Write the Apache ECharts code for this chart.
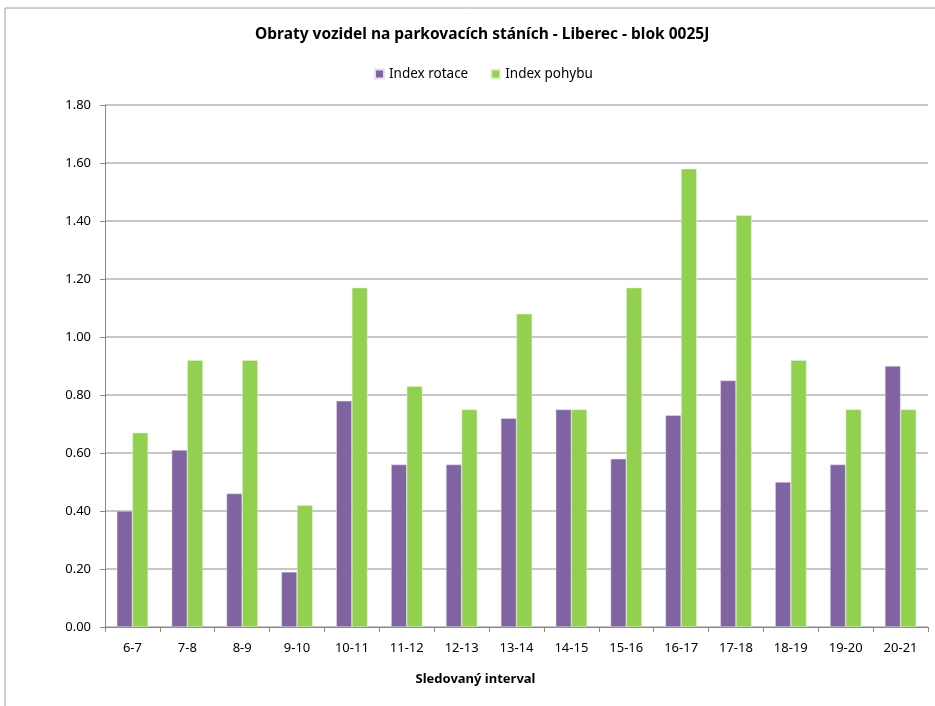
<!DOCTYPE html>
<html>
<head>
<meta charset="utf-8">
<script src="https://cdn.jsdelivr.net/npm/echarts@6/dist/echarts.min.js"></script>
<style>
  html, body { margin: 0; padding: 0; background: #fff; }
  #chart { width: 935px; height: 706px; }
</style>
</head>
<body>
<div id="chart"></div>
<script>
var categories = ['6-7', '7-8', '8-9', '9-10', '10-11', '11-12', '12-13', '13-14', '14-15', '15-16', '16-17', '17-18', '18-19', '19-20', '20-21'];
var indexRotace = [0.40, 0.61, 0.46, 0.19, 0.78, 0.56, 0.56, 0.72, 0.75, 0.58, 0.73, 0.85, 0.50, 0.56, 0.90];
var indexPohybu = [0.67, 0.92, 0.92, 0.42, 1.17, 0.83, 0.75, 1.08, 0.75, 1.17, 1.58, 1.42, 0.92, 0.75, 0.75];

var font = 'Noto Sans';
var chart = echarts.init(document.getElementById('chart'));

var option = {
  animation: false,
  color: ['#8064A2', '#92D050'],
  title: {
    text: 'Obraty vozidel na parkovacích stáních - Liberec - blok 0025J',
    left: 250,
    top: 22,
    textStyle: { fontFamily: font, fontSize: 15.5, fontWeight: 'bold', color: '#000' }
  },
  legend: {
    top: 62,
    left: 369,
    itemWidth: 9,
    itemHeight: 9,
    itemGap: 22,
    icon: 'rect',
    textStyle: { fontFamily: font, fontSize: 13.5, color: '#000' },
    data: ['Index rotace', 'Index pohybu']
  },
  graphic: [{
    type: 'rect',
    shape: { x: 5, y: 8, width: 940, height: 710 },
    style: { fill: 'none', stroke: '#a0a0a0', lineWidth: 1 },
    silent: true
  }],
  grid: { left: 105, right: 7, top: 105, bottom: 79 },
  xAxis: {
    type: 'category',
    data: categories,
    name: 'Sledovaný interval',
    nameLocation: 'middle',
    nameGap: 46,
    nameTextStyle: { fontFamily: font, fontSize: 13, fontWeight: 'bold', color: '#000', padding: [0, 82, 0, 0] },
    axisLine: { lineStyle: { color: '#868686' } },
    axisTick: { show: true, length: 5, lineStyle: { color: '#868686' } },
    axisLabel: { fontFamily: font, fontSize: 13, color: '#000', margin: 15 }
  },
  yAxis: {
    type: 'value',
    min: 0,
    max: 1.8,
    interval: 0.2,
    axisLine: { show: true, lineStyle: { color: '#868686' } },
    axisTick: { show: true, length: 5, lineStyle: { color: '#868686' } },
    axisLabel: {
      fontFamily: font, fontSize: 13, color: '#000', margin: 14,
      formatter: function (v) { return v.toFixed(2); }
    },
    splitLine: { lineStyle: { color: '#b3b3b3', width: 1.5 } }
  },
  series: [{
    name: 'Index rotace',
    type: 'bar',
    data: indexRotace,
    barGap: '0%',
    barCategoryGap: '43%',
    itemStyle: { borderColor: '#e6e0ee', borderWidth: 0.5 }
  }, {
    name: 'Index pohybu',
    type: 'bar',
    data: indexPohybu,
    itemStyle: { borderColor: '#e3f3d3', borderWidth: 0.5 }
  }]
};

chart.setOption(option);
</script>
</body>
</html>
